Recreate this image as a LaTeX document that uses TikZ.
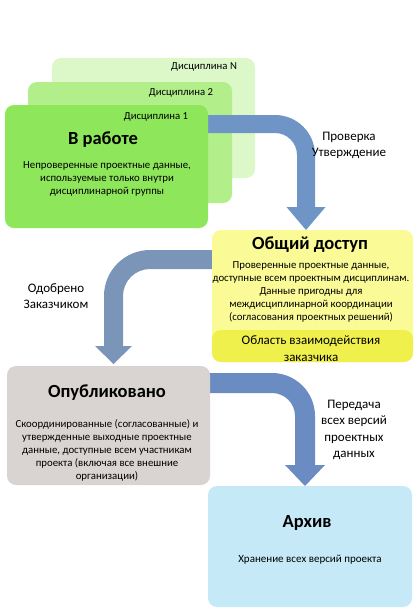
\documentclass[tikz,border=0pt]{standalone}
\usepackage{fontspec}
\setmainfont{Carlito}
\definecolor{discN}{HTML}{DCF8C8}
\definecolor{discB}{HTML}{B2EF8A}
\definecolor{discA}{HTML}{8EE65A}
\definecolor{yel}{HTML}{FAFA96}
\definecolor{yeldark}{HTML}{F0F04C}
\definecolor{grayb}{HTML}{D9D4D2}
\definecolor{blueb}{HTML}{C6E9F8}
\definecolor{arrA}{HTML}{6F95C7}
\definecolor{arrB}{HTML}{7A95B8}
\definecolor{arrC}{HTML}{6A8CC2}
\tikzset{
  box/.style={rounded corners=9pt, inner sep=0pt, draw=none},
  ttl/.style={font=\fontsize{18.5}{22}\selectfont\bfseries},
  body/.style={font=\fontsize{10.8}{13}\selectfont, align=center},
  small/.style={font=\fontsize{10.7}{12}\selectfont},
  lbl/.style={font=\fontsize{13}{16.5}\selectfont, align=center},
}
\begin{document}
\begin{tikzpicture}[x=1pt,y=-1pt]
\useasboundingbox (0,0) rectangle (417,614);
% discipline stack
\node[box, fill=discN, minimum width=203pt, minimum height=120pt] (dN) at (153.5,118) {};
\node[small] (dNl) at (204,67) {Дисциплина N};
\node[box, fill=discB, minimum width=204pt, minimum height=121pt] (dB) at (130,142.5) {};
\node[small] (dBl) at (181,93) {Дисциплина 2};
% arrow 1
\fill[arrA] (208,115) -- (275,115) arc[start angle=-90, end angle=0, radius=40]
  -- (315,207) -- (325.5,207) -- (306,230) -- (286.5,207) -- (297,207)
  -- (297,155) arc[start angle=0, end angle=-90, radius=22] -- (208,133) -- cycle;
\node[box, fill=discA, minimum width=203pt, minimum height=123pt] (dA) at (106.5,166.5) {};
\node[small] (dAl) at (156,117) {Дисциплина 1};
\node[ttl] (wT) at (103,140) {В работе};
\node[body] (wB) at (107,179) {Непроверенные проектные данные,\\ используемые только внутри\\ дисциплинарной группы};
\node[lbl] (l1) at (349,145.5) {Проверка\\ Утверждение};
% arrow 2
\fill[arrB] (214,250) -- (150,250) arc[start angle=-90, end angle=-180, radius=46]
  -- (104,346) -- (95,346) -- (113.5,364) -- (132,346) -- (123,346)
  -- (123,296) arc[start angle=180, end angle=270, radius=27] -- (214,269) -- cycle;
% shared
\node[box, fill=yel, minimum width=201pt, minimum height=132pt] (sh) at (312.5,296) {};
\node[box, fill=yeldark, minimum width=201pt, minimum height=32pt] (cz) at (312.5,346) {};
\node[ttl] (shT) at (310,245) {Общий доступ};
\node[body] (shB) at (311,291.5) {Проверенные проектные данные,\\ доступные всем проектным дисциплинам.\\ Данные пригодны для\\ междисциплинарной координации\\ (согласования проектных решений)};
\node[font=\fontsize{13}{17}\selectfont, align=center] (czT) at (311,348.5) {Область взаимодействия\\ заказчика};
\node[lbl] (l2) at (56,296) {Одобрено\\ Заказчиком};
% arrow 3
\fill[arrC] (208,373) -- (272,373) arc[start angle=-90, end angle=0, radius=43]
  -- (315,465) -- (325,465) -- (305,486) -- (285,465) -- (295,465)
  -- (295,416) arc[start angle=0, end angle=-90, radius=23] -- (208,393) -- cycle;
% published
\node[box, fill=grayb, minimum width=203pt, minimum height=119pt] (pb) at (108.5,425.5) {};
\node[ttl] (pbT) at (107,393) {Опубликовано};
\node[body] (pbB) at (107,450) {Скоординированные (согласованные) и\\ утвержденные выходные проектные\\ данные, доступные всем участникам\\ проекта (включая все внешние\\ организации)};
\node[lbl] (l3) at (354,430) {Передача\\ всех версий\\ проектных\\ данных};
% archive
\node[box, fill=blueb, minimum width=204pt, minimum height=121pt] (ar) at (310,546.5) {};
\node[ttl] (arT) at (307,523) {Архив};
\node[font=\fontsize{11}{13}\selectfont] (arB) at (310,560) {Хранение всех версий проекта};
\end{tikzpicture}
\end{document}
